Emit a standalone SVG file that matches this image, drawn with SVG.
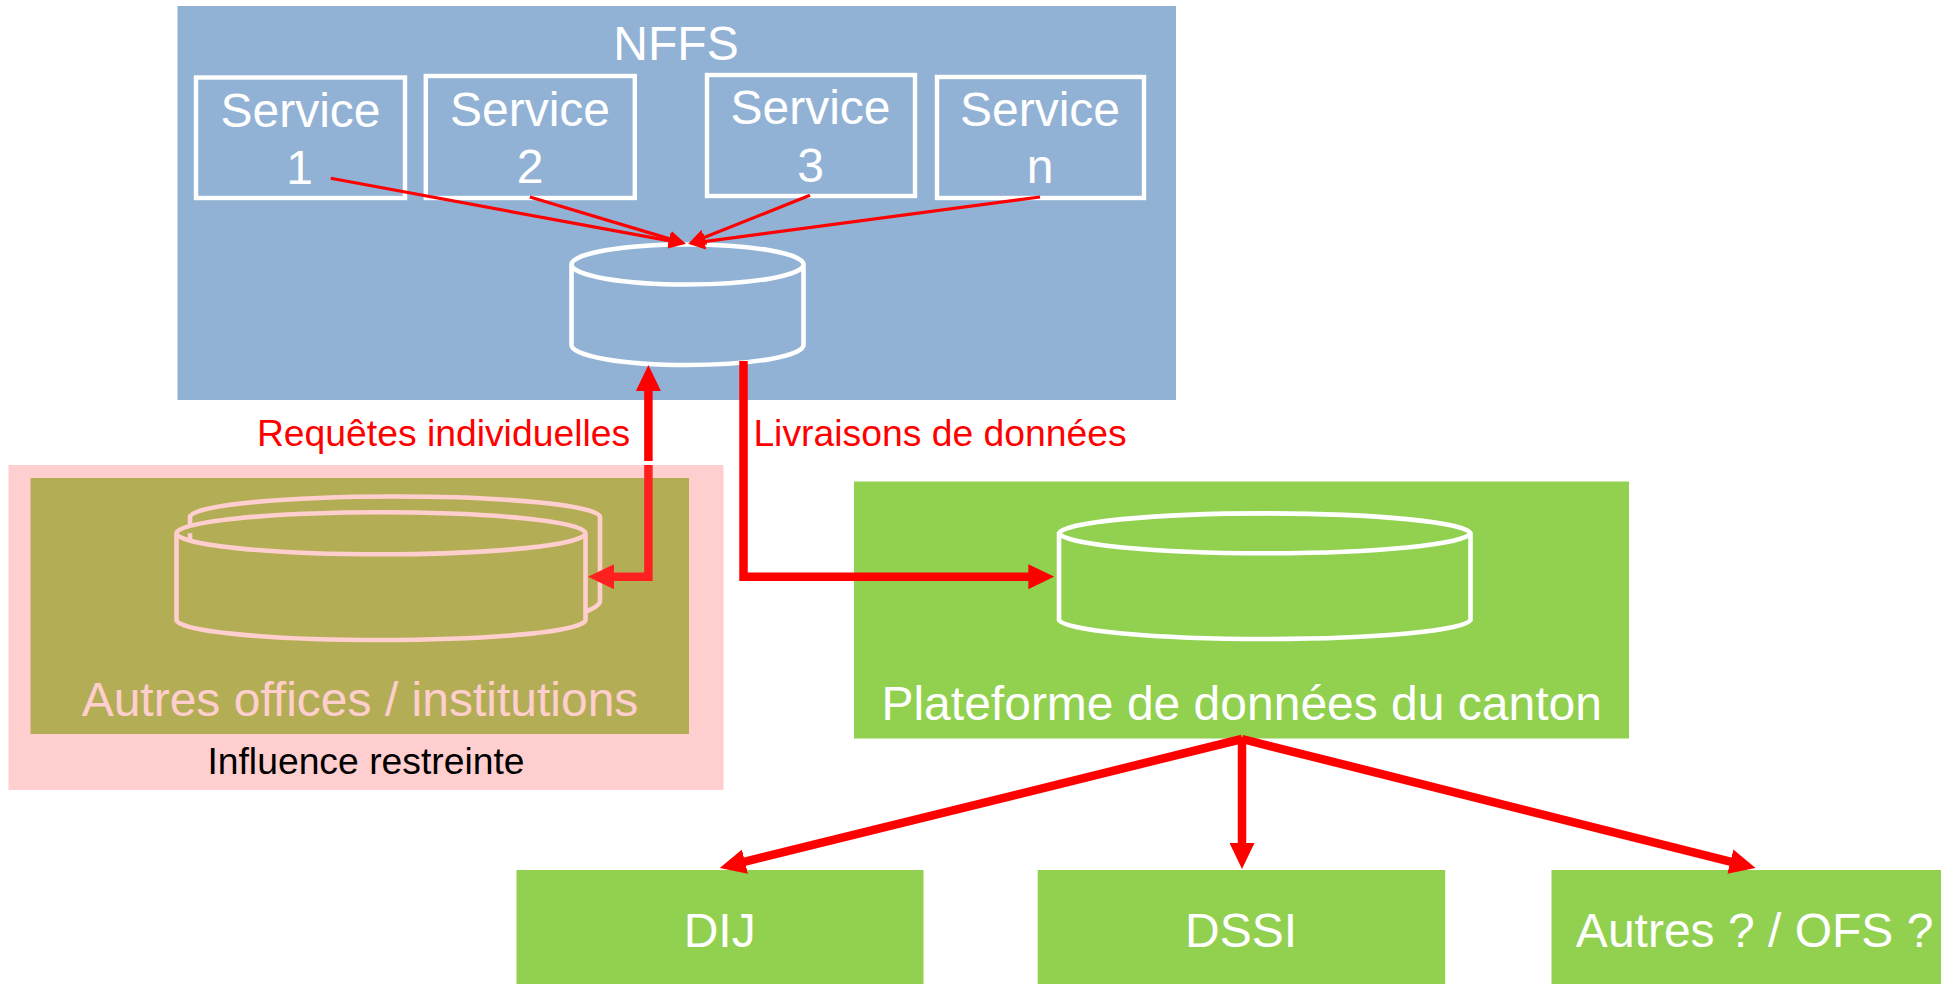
<svg xmlns="http://www.w3.org/2000/svg" width="1941" height="984" viewBox="0 0 1941 984">
<style>
text{font-family:"Liberation Sans",Arial,sans-serif;text-anchor:middle}
.big{font-size:48px;fill:#fff}
.lab{font-size:37.3px;fill:#f00}
.box{fill:none;stroke:#fff;stroke-width:4.4}
.cyl{fill:none;stroke:#fff;stroke-width:4.6}
.cylp{fill:#b3ae56;stroke:#ffcfcf;stroke-width:4.6}
.thin{fill:none;stroke:#f00;stroke-width:3.2;marker-end:url(#ah)}
.thick{fill:none;stroke:#f00;stroke-width:8.5;marker-end:url(#AH)}
.thickp{fill:none;stroke:#ff2020;stroke-width:8.5;marker-end:url(#AHP)}
</style>
<defs>
<marker id="ah" markerUnits="userSpaceOnUse" markerWidth="17" markerHeight="16" refX="1" refY="8" orient="auto"><path d="M0,0L17,8L0,16z" fill="#f00"/></marker>
<marker id="AH" markerUnits="userSpaceOnUse" markerWidth="26" markerHeight="25" refX="1" refY="12.5" orient="auto"><path d="M0,0L26,12.5L0,25z" fill="#f00"/></marker>
<marker id="AHP" markerUnits="userSpaceOnUse" markerWidth="26" markerHeight="25" refX="1" refY="12.5" orient="auto"><path d="M0,0L26,12.5L0,25z" fill="#ff2020"/></marker>
</defs>
<rect width="1941" height="984" fill="#fff"/>
<g id="nffs">
<rect x="177.5" y="6" width="998.5" height="394" fill="#92b2d5"/>
<text class="big" x="676" y="60">NFFS</text>
</g>
<g id="service-1"><rect class="box" x="196" y="77.5" width="209" height="120.5"/><text class="big" x="300.5" y="127">Service</text><text class="big" x="299.5" y="184">1</text></g>
<g id="service-2"><rect class="box" x="425.8" y="76" width="209" height="122"/><text class="big" x="530" y="126">Service</text><text class="big" x="530" y="183">2</text></g>
<g id="service-3"><rect class="box" x="707" y="75" width="208" height="121"/><text class="big" x="810.5" y="124">Service</text><text class="big" x="810.5" y="182">3</text></g>
<g id="service-n"><rect class="box" x="937" y="77" width="207" height="121"/><text class="big" x="1040" y="126">Service</text><text class="big" x="1040" y="183">n</text></g>
<g id="nffs-db"><path class="cyl" d="M571.5,264.5A116,20 0 0 1 803.5,264.5V345A116,20 0 0 1 571.5,345ZM571.5,264.5A116,20 0 0 0 803.5,264.5"/></g>
<g id="influence">
<rect x="8.5" y="465" width="715" height="325" fill="#ffcfcf"/>
<text x="366" y="774" font-size="37.3" fill="#000">Influence restreinte</text>
</g>
<g id="autres-offices">
<rect x="30.5" y="478" width="658.5" height="256" fill="#b3ae56"/>
<path class="cylp" d="M190,517A205,20.5 0 0 1 600,517V601Q600,606 585,612H200Q190,606 190,601Z"/>
<path class="cylp" d="M176.5,533.3A204.5,21 0 0 1 585.5,533.3V620A204.5,20 0 0 1 176.5,620ZM176.5,533.3A204.5,21 0 0 0 585.5,533.3"/>
<text x="360" y="716" font-size="48" fill="#ffcfcf">Autres offices / institutions</text>
</g>
<g id="plateforme">
<rect x="854" y="481.5" width="775" height="257" fill="#92d050"/>
<path class="cyl" d="M1059,533.3A206,21 0 0 1 1470.5,533.3V620A206,20 0 0 1 1059,620ZM1059,533.3A206,21 0 0 0 1470.5,533.3"/>
<text class="big" x="1241.7" y="720">Plateforme de données du canton</text>
</g>
<g id="dij"><rect x="516.5" y="870" width="407" height="114" fill="#92d050"/><text class="big" x="719.7" y="947">DIJ</text></g>
<g id="dssi"><rect x="1037.7" y="870" width="407.5" height="114" fill="#92d050"/><text class="big" x="1241" y="947">DSSI</text></g>
<g id="autres"><rect x="1551.5" y="870" width="389.5" height="114" fill="#92d050"/><text class="big" x="1754.6" y="947">Autres ? / OFS ?</text></g>
<g id="connectors">
<path class="thin" d="M330.8,178.3L670,240.9"/>
<path class="thin" d="M529.9,197L670.5,239.1"/>
<path class="thin" d="M810,195.3L703.5,237.7"/>
<path class="thin" d="M1040,197L704,241.7"/>
<path class="thick" d="M648.4,461V390"/>
<path class="thickp" d="M648.4,465V576.7H613"/>
<path class="thick" d="M743.5,361V576.7H1029.3"/>
<path class="thick" d="M1242,739L744,861.9"/>
<path class="thick" d="M1242,737V844"/>
<path class="thick" d="M1242,739L1731.3,861.8"/>
</g>
<g id="labels">
<text class="lab" x="443.5" y="446">Requêtes individuelles</text>
<text class="lab" x="940" y="446">Livraisons de données</text>
</g>
</svg>
